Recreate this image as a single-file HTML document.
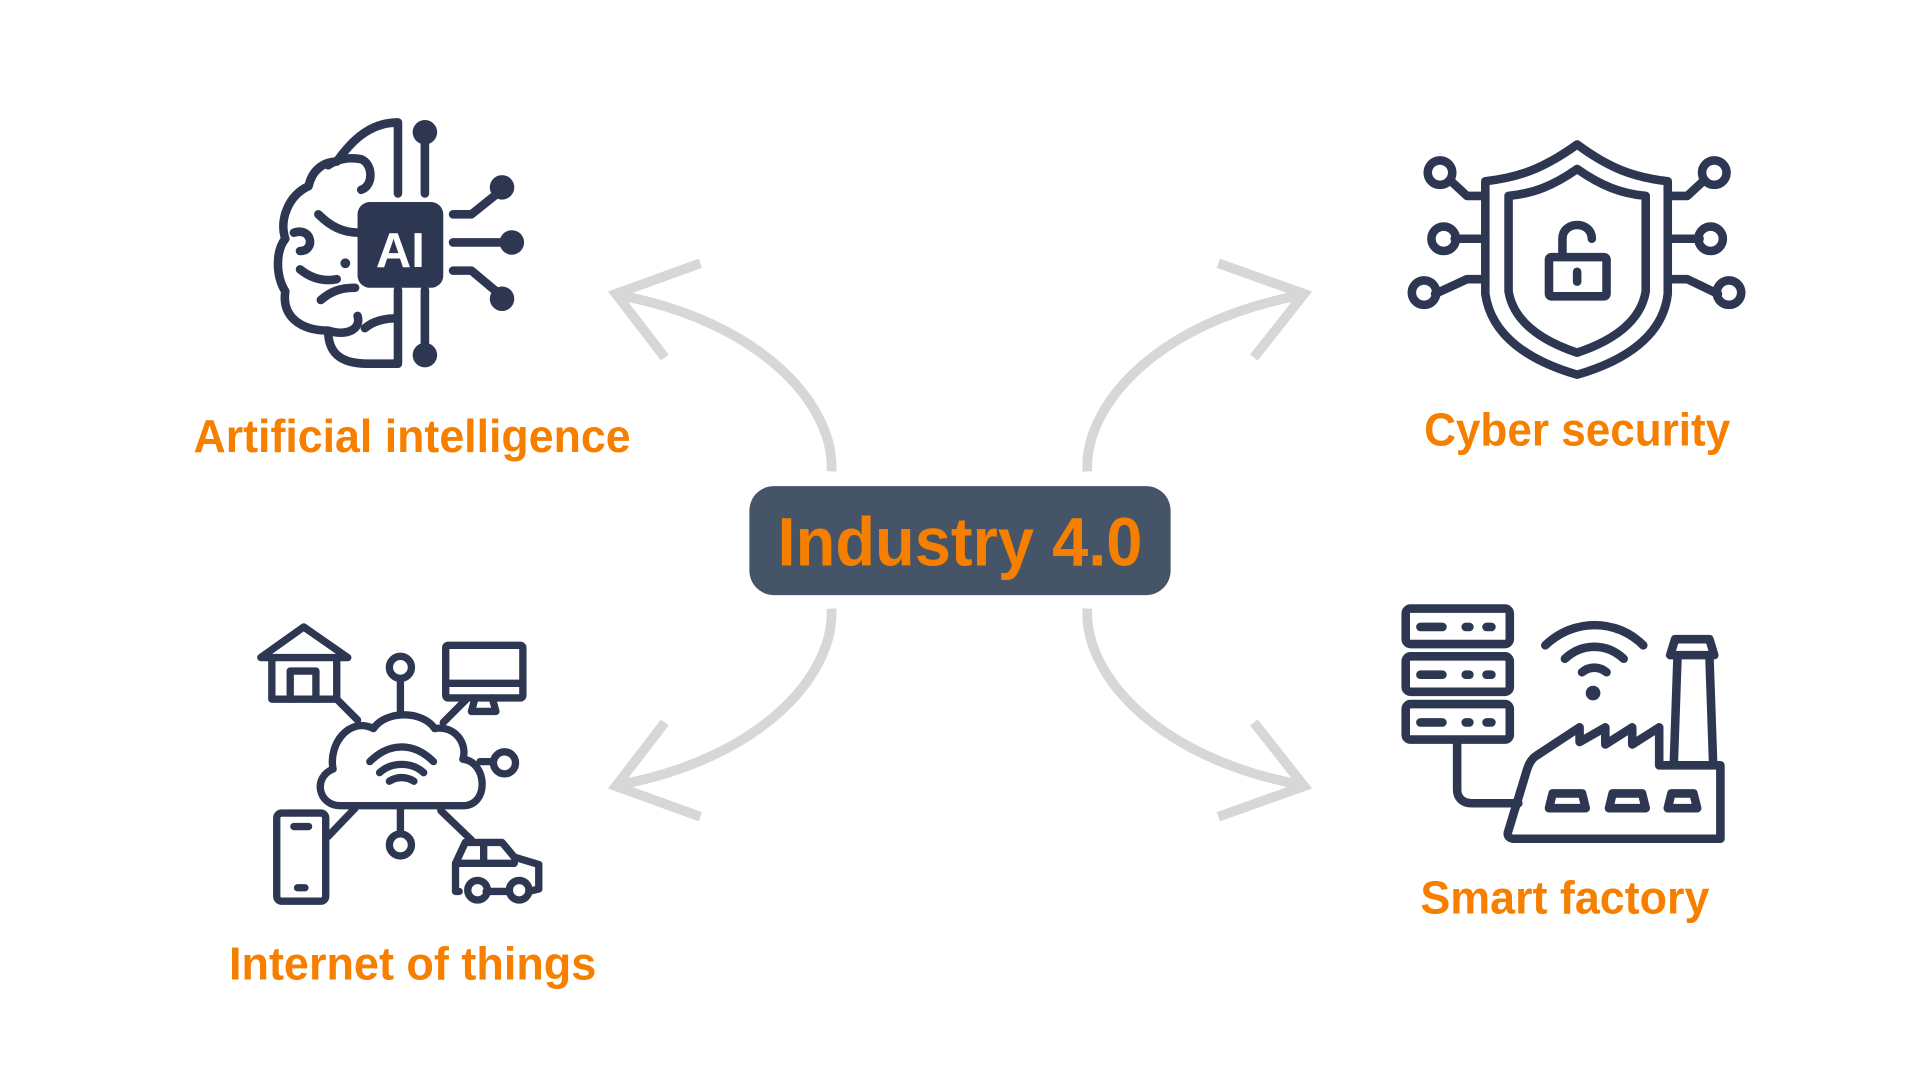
<!DOCTYPE html>
<html><head><meta charset="utf-8"><style>
html,body{margin:0;padding:0;background:#fff;width:1920px;height:1080px;overflow:hidden}
svg{display:block}
text{font-family:"Liberation Sans",sans-serif;font-weight:bold}
</style></head><body>
<svg width="1920" height="1080" viewBox="0 0 1568 882" preserveAspectRatio="none" xmlns="http://www.w3.org/2000/svg">
<rect width="1568" height="882" fill="#fff"/>
<!-- arrows -->
<g fill="none" stroke="#d6d8d7" stroke-width="8" stroke-linecap="butt">
<path d="M679,385 C682,330 620,262 505,241"/>
<path d="M572,215 L503,240 L543,292"/>
<path d="M888,385 C885,330 947,262 1063,241"/>
<path d="M995,215 L1065,240 L1024,292"/>
<path d="M679,497 C682,552 620,620 505,641"/>
<path d="M572,667 L503,642 L543,590"/>
<path d="M888,497 C885,552 947,620 1063,641"/>
<path d="M995,667 L1065,642 L1024,590"/>
</g>
<!-- center -->
<rect x="612" y="397" width="344" height="89" rx="20" fill="#465467"/>
<text x="784" y="462" text-anchor="middle" font-size="56" fill="#f77f00" textLength="298" lengthAdjust="spacingAndGlyphs">Industry 4.0</text>
<!-- labels -->
<g fill="#f77f00" font-size="38">
<text x="158" y="369" textLength="357" lengthAdjust="spacingAndGlyphs">Artificial intelligence</text>
<text x="1163" y="364" textLength="250" lengthAdjust="spacingAndGlyphs">Cyber security</text>
<text x="187" y="800" textLength="300" lengthAdjust="spacingAndGlyphs">Internet of things</text>
<text x="1160" y="746" textLength="236" lengthAdjust="spacingAndGlyphs">Smart factory</text>
</g>
<!-- AI icon -->
<g fill="none" stroke="#2d3752" stroke-width="7" stroke-linecap="round" stroke-linejoin="round">
<path d="M325,100 L325,158 M325,237 L325,297 L300,297 C280,297 268,290 268,270 C245,270 230,258 233,238 C225,225 225,205 233,195 C228,180 235,160 252,152 C255,138 265,132 275,132 C285,118 300,100 325,100"/>
<path d="M268,135 C275,130 285,128 295,130 C305,134 305,152 295,155"/>
<path d="M260,175 C270,185 280,190 293,190"/>
<path d="M240,190 C255,185 258,205 245,205"/>
<path d="M245,220 C255,228 265,230 275,228"/>
<path d="M262,245 C270,238 278,235 290,235"/>
<path d="M292,258 C295,268 285,275 268,270"/>
<path d="M298,268 C305,262 315,260 322,260"/>
<path d="M347,108 L347,158 M347,237 L347,290"/>
<path d="M370,175 L385,175 L410,155 M370,198 L418,198 M370,221 L385,221 L410,242"/>
</g>
<g fill="#2d3752"><circle cx="347" cy="108" r="10"/><circle cx="347" cy="290" r="10"/><circle cx="410" cy="153" r="10"/><circle cx="418" cy="198" r="10"/><circle cx="410" cy="244" r="10"/><circle cx="282" cy="215" r="4"/>
<rect x="292" y="165" width="70" height="70" rx="10"/></g>
<text x="327" y="218" text-anchor="middle" font-size="40" fill="#fff">AI</text>
<!-- Shield -->
<g fill="none" stroke="#2d3752" stroke-width="7" stroke-linecap="round" stroke-linejoin="round">
<path d="M1288,118 C1260,138 1240,145 1213,148 L1213,240 C1218,275 1250,295 1288,306 C1326,295 1358,275 1362,240 L1362,148 C1335,145 1315,138 1288,118Z"/>
<path d="M1288,138 C1268,152 1252,158 1232,160 L1232,238 C1236,262 1258,278 1288,288 C1318,278 1340,262 1344,238 L1344,160 C1324,158 1308,152 1288,138Z"/>
<rect x="1265" y="210" width="47" height="32" rx="2"/>
<path d="M1276,208 L1276,195 C1276,180 1300,180 1300,195"/>
<path d="M1288,222 L1288,230"/>
<path d="M1213,160 L1198,160 L1184,147 M1213,195 L1188,195 M1213,228 L1198,228 L1172,240"/>
<path d="M1362,160 L1378,160 L1392,147 M1362,195 L1388,195 M1362,228 L1378,228 L1403,240"/>
<circle cx="1176" cy="141" r="10"/><circle cx="1179" cy="195" r="10"/><circle cx="1163" cy="239" r="10"/>
<circle cx="1400" cy="141" r="10"/><circle cx="1397" cy="195" r="10"/><circle cx="1412" cy="239" r="10"/>
</g>
<!-- IoT -->
<g fill="none" stroke="#2d3752" stroke-width="6" stroke-linecap="round" stroke-linejoin="round">
<path d="M213,537 L248,512 L284,537 Z"/>
<path d="M222,537 L222,571 L275,571 L275,537"/>
<path d="M237,571 L237,548 L258,548 L258,571"/>
<rect x="364" y="527" width="63" height="43" rx="2"/><path d="M364,558 L427,558 M388,570 L385,581 L405,581 L402,570"/>
<path d="M278,658 C260,658 255,635 272,628 C268,608 285,585 305,595 C315,580 345,580 355,595 C372,592 382,608 378,620 C398,622 400,658 378,658 Z"/>
<path d="M302,622 C318,606 338,606 354,622 M310,631 C320,622 336,622 346,631 M318,638 C324,634 332,634 338,638"/>
<path d="M327,555 L327,583 M274,570 L292,588 M380,572 L362,590 M392,622 L402,622 M327,658 L327,680 M290,660 L268,683 M360,662 L385,686"/>
<circle cx="327" cy="545" r="9"/><circle cx="412" cy="623" r="9"/><circle cx="327" cy="690" r="9"/>
<rect x="226" y="664" width="40" height="72" rx="4"/><path d="M240,675 L252,675 M243,725 L249,725"/>
<path d="M375,728 L372,728 L372,705 L380,688 L410,688 L420,700 L440,706 L440,726 L432,728 M397,728 L414,728 M374,705 L420,705 M395,688 L395,705"/>
<circle cx="390" cy="727" r="8"/><circle cx="424" cy="727" r="8"/>
</g>
<!-- Factory -->
<g fill="none" stroke="#2d3752" stroke-width="7" stroke-linecap="round" stroke-linejoin="round">
<rect x="1148" y="497" width="85" height="29" rx="4"/><rect x="1148" y="536" width="85" height="29" rx="4"/><rect x="1148" y="575" width="85" height="29" rx="4"/>
<path d="M1160,512 L1178,512 M1197,512 L1200,512 M1214,512 L1218,512 M1160,551 L1178,551 M1197,551 L1200,551 M1214,551 L1218,551 M1160,590 L1178,590 M1197,590 L1200,590 M1214,590 L1218,590"/>
<path d="M1190,605 L1190,645 C1190,652 1195,656 1202,656 L1240,656"/>
<path d="M1262,527 C1285,505 1320,505 1342,527 M1278,538 C1292,525 1312,525 1326,538 M1292,549 C1298,544 1306,544 1312,549"/>
<path d="M1237,685 L1405,685 L1405,625 L1355,625 L1355,594 L1333,608 L1333,594 L1311,608 L1311,594 L1290,606 L1290,594 L1255,617 C1250,620 1248,625 1246,632 L1232,678 C1230,683 1233,685 1237,685Z"/>
<path d="M1367,622 L1370,535 L1396,535 L1399,622 M1364,535 L1400,535 L1396,522 L1368,522 Z"/>
<path d="M1265,660 L1268,648 L1292,648 L1295,660 Z M1314,660 L1317,648 L1341,648 L1344,660 Z M1362,660 L1365,648 L1383,648 L1386,660 Z"/>
</g>
<circle cx="1301" cy="566" r="6" fill="#2d3752"/>
</svg>
</body></html>
